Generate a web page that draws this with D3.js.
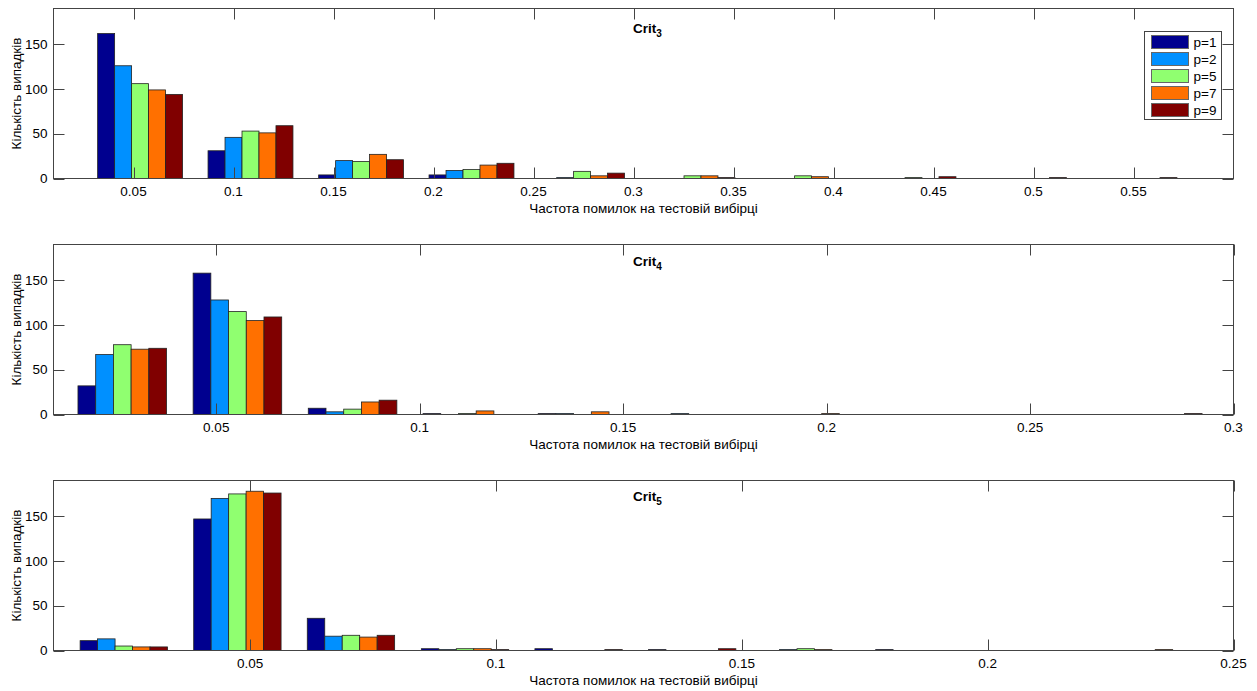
<!DOCTYPE html>
<html>
<head>
<meta charset="utf-8">
<script src="https://cdn.jsdelivr.net/npm/d3@7"></script>
<style>
  body { margin: 0; background: #fff; }
  text { font-family: "Liberation Sans", Arial, sans-serif; }
</style>
</head>
<body>
<script>
// data ====================================================================
var seriesNames = ["p=1", "p=2", "p=5", "p=7", "p=9"]
var seriesColors = ["#00008f", "#0090ff", "#90ff70", "#ff7000", "#800000"]

var yTicks = [0, 50, 100, 150]

// Crit3
var bins3 = [0.0533, 0.1085, 0.1638, 0.2190, 0.2743, 0.3295, 0.3848, 0.4400, 0.4953, 0.5505]
var ticks3 = [0.05, 0.1, 0.15, 0.2, 0.25, 0.3, 0.35, 0.4, 0.45, 0.5, 0.55]
var counts3 = [
  [162, 31, 4, 4, 0, 0, 0, 0, 0, 0],
  [126, 46, 20, 9, 1, 0, 0, 0, 0, 0],
  [106, 53, 19, 10, 8, 3, 3, 1, 0, 0],
  [99, 51, 27, 15, 3, 3, 2, 0, 0, 0],
  [94, 59, 21, 17, 6, 1, 0, 2, 1, 1]
]

// Crit4
var bins4 = [0.0269, 0.0552, 0.0835, 0.1117, 0.1400, 0.1683, 0.1966, 0.2249, 0.2531, 0.2814]
var ticks4 = [0.05, 0.1, 0.15, 0.2, 0.25, 0.3]
var counts4 = [
  [32, 158, 7, 1, 1, 0, 0, 0, 0, 0],
  [67, 128, 3, 0, 1, 1, 0, 0, 0, 0],
  [78, 115, 6, 1, 0, 0, 0, 0, 0, 0],
  [73, 105, 14, 4, 3, 0, 1, 0, 0, 0],
  [74, 109, 16, 0, 0, 0, 0, 0, 0, 1]
]

// Crit5
var bins5 = [0.0243, 0.0474, 0.0705, 0.0937, 0.1168, 0.1399, 0.1630, 0.1861, 0.2092, 0.2323]
var ticks5 = [0.05, 0.1, 0.15, 0.2, 0.25]
var counts5 = [
  [11, 147, 36, 2, 2, 1, 0, 1, 0, 0],
  [13, 170, 16, 1, 0, 0, 1, 0, 0, 0],
  [5, 175, 17, 2, 0, 0, 2, 0, 0, 0],
  [4, 178, 15, 2, 0, 0, 1, 0, 0, 1],
  [4, 176, 17, 1, 1, 2, 0, 0, 0, 0]
]

var xLabel = "Частота помилок на тестовій вибірці"
var yLabel = "Кількість випадків"

// layout ==================================================================
var width = 1257, height = 691
var left = 53.5, right = 1233.5, plotH = 170
var axisColor = "#444"
var tickLen = 11
var fontSize = "13.5px"

var panels = [
  { title: "Crit", sub: "3", top: 8.5, titleDy: 24, xMax: 0.6, bins: bins3, ticks: ticks3, counts: counts3, legend: true },
  { title: "Crit", sub: "4", top: 244.5, titleDy: 21, xMax: 0.3, bins: bins4, ticks: ticks4, counts: counts4 },
  { title: "Crit", sub: "5", top: 480.5, titleDy: 20, xMax: 0.25, bins: bins5, ticks: ticks5, counts: counts5 }
]

var svg = d3.select("body").append("svg")
  .attr("width", width)
  .attr("height", height)

panels.forEach(function(p) {
  var bottom = p.top + plotH
  var x = d3.scaleLinear().domain([0.01, p.xMax]).range([left, right])
  var y = d3.scaleLinear().domain([0, 190]).range([bottom, p.top])

  // MATLAB style grouped bars: group width = n/(n+1.5) of bin spacing
  var spacing = x(p.bins[1]) - x(p.bins[0])
  var groupW = spacing * seriesNames.length / (seriesNames.length + 1.5)
  var sub = d3.scaleBand().domain(d3.range(seriesNames.length)).range([-groupW / 2, groupW / 2])

  var g = svg.append("g")

  var rows = []
  p.counts.forEach(function(arr, si) {
    arr.forEach(function(v, bi) {
      if (v > 0) rows.push({ s: si, bin: p.bins[bi], v: v })
    })
  })

  g.append("g").selectAll("rect")
    .data(rows)
    .enter().append("rect")
    .attr("x", function(d) { return x(d.bin) + sub(d.s) })
    .attr("width", sub.bandwidth())
    .attr("y", function(d) { return y(d.v) })
    .attr("height", function(d) { return y(0) - y(d.v) })
    .style("fill", function(d) { return seriesColors[d.s] })
    .style("stroke", "#222")
    .style("stroke-width", 0.8)

  // box
  g.append("rect")
    .attr("x", left).attr("y", p.top)
    .attr("width", right - left).attr("height", plotH)
    .style("fill", "none").style("stroke", axisColor).style("stroke-width", 1)

  // x ticks (bottom + top, inward)
  var xt = g.append("g").selectAll("g").data(p.ticks).enter().append("g")
  xt.append("line")
    .attr("x1", function(d) { return Math.round(x(d)) + 0.5 }).attr("x2", function(d) { return Math.round(x(d)) + 0.5 })
    .attr("y1", bottom).attr("y2", bottom - tickLen)
    .style("stroke", axisColor)
  xt.append("line")
    .attr("x1", function(d) { return Math.round(x(d)) + 0.5 }).attr("x2", function(d) { return Math.round(x(d)) + 0.5 })
    .attr("y1", p.top).attr("y2", p.top + tickLen)
    .style("stroke", axisColor)
  xt.append("text")
    .attr("x", function(d) { return x(d) })
    .attr("y", bottom + 17)
    .attr("text-anchor", "middle")
    .attr("font-size", fontSize)
    .style("fill", "#000")
    .text(function(d) { return String(d) })

  // y ticks (left + right, inward)
  var yt = g.append("g").selectAll("g").data(yTicks).enter().append("g")
  yt.append("line")
    .attr("x1", left).attr("x2", left + tickLen)
    .attr("y1", function(d) { return Math.round(y(d)) + 0.5 }).attr("y2", function(d) { return Math.round(y(d)) + 0.5 })
    .style("stroke", axisColor)
  yt.append("line")
    .attr("x1", right).attr("x2", right - tickLen)
    .attr("y1", function(d) { return Math.round(y(d)) + 0.5 }).attr("y2", function(d) { return Math.round(y(d)) + 0.5 })
    .style("stroke", axisColor)
  yt.append("text")
    .attr("x", left - 6)
    .attr("y", function(d) { return y(d) })
    .attr("dy", ".35em")
    .attr("text-anchor", "end")
    .attr("font-size", fontSize)
    .style("fill", "#000")
    .text(function(d) { return d })

  // axis labels
  g.append("text")
    .attr("x", (left + right) / 2)
    .attr("y", bottom + 34)
    .attr("text-anchor", "middle")
    .attr("font-size", fontSize)
    .style("fill", "#000")
    .text(xLabel)

  g.append("text")
    .attr("transform", "translate(21," + (p.top + plotH / 2) + ") rotate(-90)")
    .attr("text-anchor", "middle")
    .attr("font-size", fontSize)
    .style("fill", "#000")
    .text(yLabel)

  // title with subscript
  var t = g.append("text")
    .attr("x", (left + right) / 2 + 4)
    .attr("y", p.top + p.titleDy)
    .attr("text-anchor", "middle")
    .attr("font-size", fontSize)
    .attr("font-weight", "bold")
    .style("fill", "#000")
  t.append("tspan").text(p.title)
  t.append("tspan").attr("dy", 4).attr("font-size", "10px").text(p.sub)

  if (p.legend) {
    var lx = 1144.5, ly = 31.5
    var lg = g.append("g")
    lg.append("rect")
      .attr("x", lx).attr("y", ly)
      .attr("width", 77).attr("height", 88)
      .style("fill", "#fff").style("stroke", axisColor)
    var item = lg.selectAll("g.item").data(seriesNames).enter().append("g")
      .attr("transform", function(d, i) { return "translate(" + (lx + 7) + "," + (ly + 4 + i * 17) + ")" })
    item.append("rect")
      .attr("width", 37).attr("height", 13)
      .style("fill", function(d, i) { return seriesColors[i] })
      .style("stroke", "#666")
    item.append("text")
      .attr("x", 42).attr("y", 6.5).attr("dy", ".35em")
      .attr("font-size", fontSize)
      .style("fill", "#000")
      .text(function(d) { return d })
  }
})
</script>
</body>
</html>
